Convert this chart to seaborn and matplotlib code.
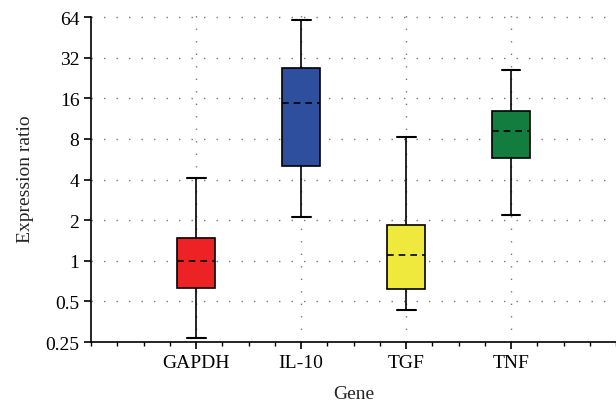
import matplotlib
matplotlib.use("Agg")
import matplotlib.pyplot as plt
import matplotlib.ticker as mticker
import numpy as np
import pandas as pd
import seaborn as sns

# five-number summaries: min, Q1, median, Q3, max
genes = ["GAPDH", "IL-10", "TGF", "TNF"]
gapdh_vals = [0.27, 0.63, 1.0, 1.47, 4.1]
il10_vals = [2.1, 5.0, 14.8, 26.9, 61.0]
tgf_vals = [0.43, 0.62, 1.1, 1.83, 8.2]
tnf_vals = [2.2, 5.8, 9.1, 12.9, 26.0]
box_colors = ["#ED2224", "#2E4F9E", "#EEE93C", "#137D3F"]

df = pd.DataFrame({
    "Gene": np.repeat(genes, 5),
    "Expression ratio": gapdh_vals + il10_vals + tgf_vals + tnf_vals,
})

sns.set_style("white")
plt.rcParams["font.family"] = ["Liberation Serif", "DejaVu Serif"]

fig, ax = plt.subplots(figsize=(6.16, 4.06), dpi=100)

sns.boxplot(
    data=df, x="Gene", y="Expression ratio", hue="Gene", palette=box_colors,
    legend=False, whis=np.inf, width=0.36, linewidth=1.2, linecolor="black",
    saturation=1, log_scale=2, ax=ax,
    medianprops=dict(linestyle=(0, (4, 3)), color="black", linewidth=1.2),
    whiskerprops=dict(color="black", linewidth=1.2),
    capprops=dict(color="black", linewidth=1.5),
    zorder=3,
)

ax.set_ylim(0.25, 66)
ax.set_xlim(-1, 4)
ax.yaxis.set_major_locator(mticker.FixedLocator([0.25, 0.5, 1, 2, 4, 8, 16, 32, 64]))
ax.yaxis.set_major_formatter(mticker.FuncFormatter(lambda v, p: f"{v:g}"))
ax.yaxis.set_minor_locator(mticker.LogLocator(base=2, subs=(1.25, 1.5, 1.75)))
ax.yaxis.set_minor_formatter(mticker.NullFormatter())
ax.xaxis.set_minor_locator(mticker.MultipleLocator(0.25))

# sparse dotted grid
ax.grid(True, which="major", linestyle=(0, (1, 8)), color="#777777", linewidth=1.0)
ax.set_axisbelow(True)

for side in ["top", "right"]:
    ax.spines[side].set_visible(False)
ax.spines["left"].set_bounds(0.25, 64)
for side in ["left", "bottom"]:
    ax.spines[side].set_color("black")
    ax.spines[side].set_linewidth(1.2)

ax.tick_params(axis="both", which="major", direction="out", length=5, width=1.2,
               colors="black", labelsize=14, left=True, bottom=True)
ax.tick_params(axis="both", which="minor", direction="out", length=3, width=1.0,
               colors="black", left=True, bottom=True)

ax.set_xlabel("Gene", fontsize=14, labelpad=10)
ax.set_ylabel("Expression ratio", fontsize=14, labelpad=8)

fig.subplots_adjust(left=0.148, right=1.0, top=0.96, bottom=0.155)
fig.savefig("out.png", dpi=100)
